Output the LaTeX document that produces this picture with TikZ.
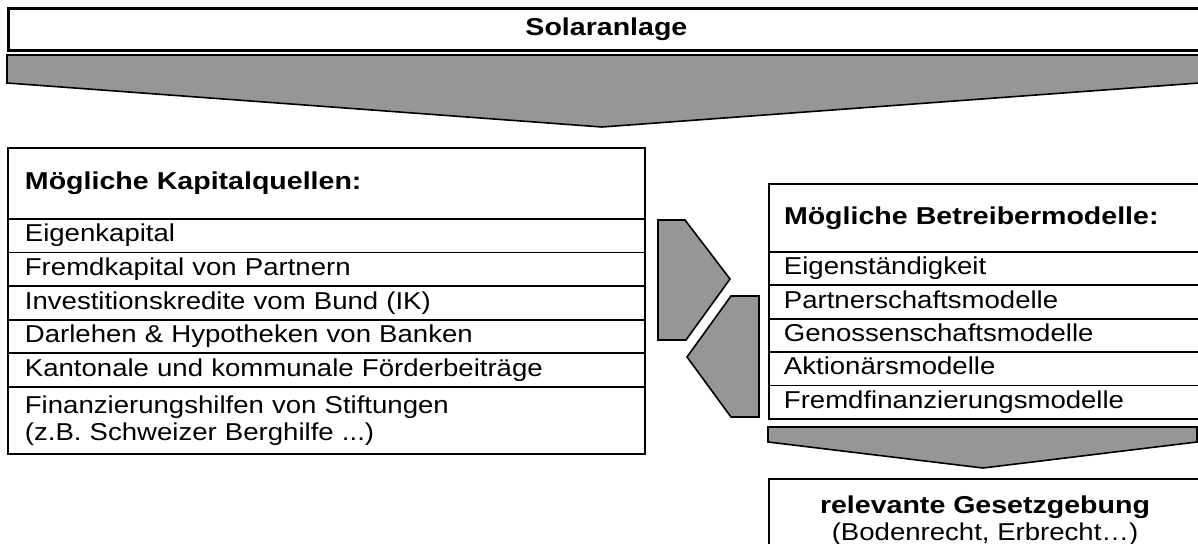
\documentclass[tikz,border=0pt]{standalone}
\usepackage{fontspec}
\setmainfont[FakeStretch=1.13,BoldFeatures={FakeStretch=1.17}]{Liberation Sans}
\usepackage{tikz}
\definecolor{arrowgray}{HTML}{969696}

\begin{document}
\begin{tikzpicture}[x=0.5pt,y=-0.5pt,draw=black!100]
	\def \titleht{7}
	\def \kapht{147}
	\def \betrht{183}
	\def \gesetzht{478}
	\def \leftcol{7}
	\def \rightcol{768}
	\tikzstyle{t-node}=[rectangle,draw=black!100,line width=1.4pt,anchor=north west,inner sep=0pt,minimum width=598pt,minimum height=21pt,font=\bfseries]
	\tikzstyle{k-head}=[rectangle,draw=black!100,line width=1pt,anchor=north west,inner xsep=8.5pt,inner ysep=0pt,text width=301.5pt,align=left,minimum height=35.5pt,text height=9.2pt,text depth=3pt,font=\bfseries]
	\tikzstyle{k-node}=[rectangle,draw=black!100,line width=0.9pt,anchor=north west,inner xsep=8.5pt,inner ysep=0pt,text width=301.5pt,align=left,minimum height=16.8pt,text height=9.2pt,text depth=3pt]
	\tikzstyle{b-head}=[rectangle,draw=black!100,line width=1pt,anchor=north west,inner xsep=7.5pt,inner ysep=0pt,text width=206pt,align=left,minimum height=34pt,text height=9.2pt,text depth=3pt,font=\bfseries]
	\tikzstyle{b-node}=[rectangle,draw=black!100,line width=0.9pt,anchor=north west,inner xsep=7.5pt,inner ysep=0pt,text width=206pt,align=left,minimum height=16.7pt,text height=9.2pt,text depth=3pt]
	\tikzstyle{g-node}=[rectangle,draw=black!100,line width=1pt,anchor=north west,inner sep=0pt,minimum width=216pt,minimum height=42pt,align=center]
	\tikzstyle{g-arrow}=[draw=black!100,line width=0.8pt,fill=arrowgray,line join=miter]
	\useasboundingbox (0,0) rectangle (1198,544);
	\fontsize{12.2}{13.5}\selectfont
	% title
	\node[t-node] 	(solar)	at (\leftcol,\titleht)	{Solaranlage};
	
	% capital sources
	\node[k-head] 	(kap)	at (\leftcol,\kapht)	{Mögliche Kapitalquellen:};
	\node[k-node] 	(k1)	at (\leftcol,218)	{Eigenkapital};
	\node[k-node] 	(k2)	at (\leftcol,251.6)	{Fremdkapital von Partnern};
	\node[k-node] 	(k3)	at (\leftcol,285.2)	{Investitionskredite vom Bund (IK)};
	\node[k-node] 	(k4)	at (\leftcol,318.8)	{Darlehen \& Hypotheken von Banken};
	\node[k-node] 	(k5)	at (\leftcol,352.4)	{Kantonale und kommunale Förderbeiträge};
	\node[k-node,minimum height=33.5pt,text height=,text depth=] 	(k6)	at (\leftcol,386)	{Finanzierungshilfen von Stiftungen\\(z.B. Schweizer Berghilfe ...)};
	
	% operator models
	\node[b-head] 	(betr)	at (\rightcol,\betrht)	{Mögliche Betreibermodelle:};
	\node[b-node] 	(b1)	at (\rightcol,251)	{Eigenständigkeit};
	\node[b-node] 	(b2)	at (\rightcol,284.4)	{Partnerschaftsmodelle};
	\node[b-node] 	(b3)	at (\rightcol,317.8)	{Genossenschaftsmodelle};
	\node[b-node] 	(b4)	at (\rightcol,351.2)	{Aktionärsmodelle};
	\node[b-node] 	(b5)	at (\rightcol,384.6)	{Fremdfinanzierungsmodelle};
	
	% legislation
	\node[g-node] 	(gesetz)	at (\rightcol,\gesetzht)	{\textbf{relevante Gesetzgebung}\\(Bodenrecht, Erbrecht…)};
	
	% block arrows
	\draw[g-arrow] (7,55) -- (1199,55) -- (1199,83) -- (602,127) -- (7,83) -- cycle;
	\draw[g-arrow] (658,220) -- (685,220) -- (730,279) -- (686,340) -- (658,340) -- cycle;
	\draw[g-arrow] (759,296) -- (731,296) -- (687,357) -- (731,417) -- (759,417) -- cycle;
	\draw[g-arrow] (768,427) -- (1197,427) -- (1197,442) -- (983,468) -- (768,442) -- cycle;
		
\end{tikzpicture}
\end{document}
